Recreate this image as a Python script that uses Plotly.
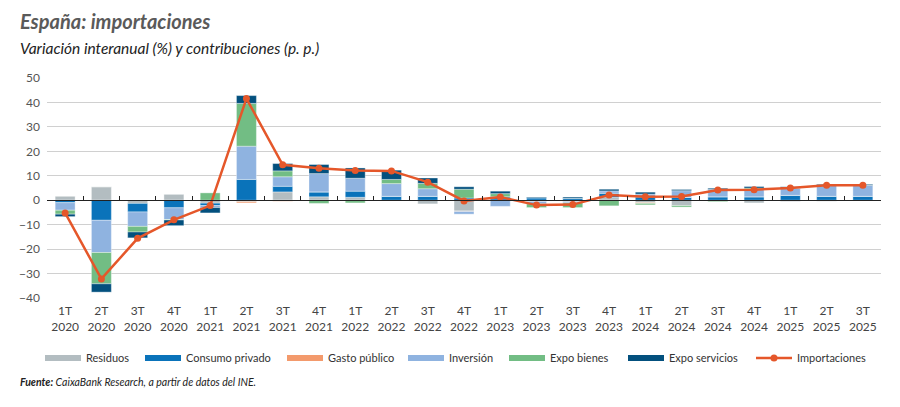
import plotly.graph_objects as go

quarters = ["1T", "2T", "3T", "4T", "1T", "2T", "3T", "4T", "1T", "2T", "3T", "4T",
            "1T", "2T", "3T", "4T", "1T", "2T", "3T", "4T", "1T", "2T", "3T"]
years = ["2020"] * 4 + ["2021"] * 4 + ["2022"] * 4 + ["2023"] * 4 + ["2024"] * 4 + ["2025"] * 3
categories = [f"{q}<br>{y}" for q, y in zip(quarters, years)]

residuos = [1.7, 5.5, -1.3, 2.5, -1.2, -0.6, 3.4, 1.4, 1.2, -0.3, -1.5, -4.4,
            0.0, -0.5, -0.6, 1.2, -1.0, -2.2, -0.3, -1.1, -0.5, -0.4, -0.3]
consumo_privado = [-1.0, -8.2, -3.5, -3.1, -1.0, 8.5, 2.3, 2.0, 2.5, 1.6, 1.6, 0.9,
                   1.4, 1.0, 0.8, 1.7, 1.3, 1.1, 1.4, 1.4, 2.0, 1.6, 1.6]
gasto_publico = [0, 0, 0, 0, 0, -0.5, -0.4, 0, -0.2, 0, 0, -0.2,
                 0, 0, 0, 0, -0.3, 0, 0, 0, 0, 0, 0]
inversion = [-3.1, -13.2, -5.9, -4.8, -0.8, 13.6, 3.9, 7.5, 5.3, 5.2, 3.1, -1.1,
             -2.5, -1.0, -0.5, 0.9, 1.2, 2.8, 3.0, 3.2, 3.0, 4.6, 4.5]
expo_bienes = [-1.6, -12.8, -2.3, -0.2, 3.0, 17.5, 2.4, -1.3, -0.9, 1.7, 2.2, 3.6,
               1.3, -1.5, -1.9, -2.3, -0.6, -0.6, -0.3, 0.4, 0.0, 0.1, 0.0]
expo_servicios = [-1.0, -3.4, -2.4, -2.3, -2.2, 3.2, 3.0, 3.7, 4.2, 3.8, 2.2, 1.0,
                  1.0, 0.3, 0.5, 0.7, 0.8, 0.5, 0.5, 0.6, 0.5, 0.3, 0.4]
importaciones = [-5.2, -32.2, -15.6, -8.0, -2.2, 41.6, 14.5, 13.1, 12.2, 12.0, 7.4, -0.3,
                 1.3, -2.0, -1.8, 2.1, 1.4, 1.5, 4.2, 4.3, 5.0, 6.1, 6.1]

series = [
    ("Residuos", residuos, "#b3bdc1"),
    ("Consumo privado", consumo_privado, "#0a73ba"),
    ("Gasto público", gasto_publico, "#f39a6c"),
    ("Inversión", inversion, "#8fb3e0"),
    ("Expo bienes", expo_bienes, "#72bd84"),
    ("Expo servicios", expo_servicios, "#03507e"),
]
line_color = "#e5572a"
FONT = "Lato"

# left edge (px) of each legend swatch, in legend order
legend_px = [44, 144, 286, 407, 508, 627, 755]

def px_x(p):
    return (p - 47) / 834

def px_y(p):
    return (298 - p) / 220

fig = go.Figure()
for name, vals, col in series:
    fig.add_trace(go.Bar(x=categories, y=vals, name=name, marker_color=col,
                         marker_line=dict(color="rgba(255,255,255,0.6)", width=0.6),
                         showlegend=False))
# legend entries drawn as wide flat swatches, each in its own legend box
for i, (name, vals, col) in enumerate(series):
    lg = "legend" if i == 0 else f"legend{i + 1}"
    fig.add_trace(go.Scatter(x=[None], y=[None], mode="lines", name=name,
                             line=dict(color=col, width=6), legend=lg))
fig.add_trace(go.Scatter(x=categories, y=importaciones, name="Importaciones",
                         mode="lines+markers", line=dict(color=line_color, width=2.5),
                         marker=dict(size=7, color=line_color), legend="legend7"))
# axis for tick marks on the zero line
fig.add_trace(go.Scatter(x=categories, y=[None] * len(categories), xaxis="x2",
                         showlegend=False, hoverinfo="skip"))

ymin, ymax = -40, 50
xr = [-0.5, len(categories) - 0.5]
legend_common = dict(orientation="h", xanchor="left", yanchor="middle",
                     y=px_y(358), itemwidth=36,
                     font=dict(size=11, color="#333"), bgcolor="rgba(0,0,0,0)")
legends = {}
for i, p in enumerate(legend_px):
    key = "legend" if i == 0 else f"legend{i + 1}"
    legends[key] = dict(legend_common, x=px_x(p - 4))

fig.update_layout(
    width=900, height=407,
    margin=dict(l=47, r=19, t=78, b=109, autoexpand=False),
    barmode="relative", bargap=0.45,
    plot_bgcolor="white", paper_bgcolor="white",
    font=dict(family=FONT, size=12, color="#444"),
    xaxis=dict(categoryorder="array", categoryarray=categories, range=xr,
               showgrid=False, showline=False, ticks="", ticklabelstandoff=4,
               tickfont=dict(size=12, color="#444"), tickangle=0, automargin=False),
    xaxis2=dict(overlaying="x", matches="x", anchor="free",
                position=(0 - ymin) / (ymax - ymin), side="bottom",
                showline=True, linecolor="#222", linewidth=1,
                ticks="inside", ticklen=4, tickcolor="#222", tickwidth=1,
                tickson="boundaries", showticklabels=False, showgrid=False,
                automargin=False),
    yaxis=dict(range=[ymin, ymax], dtick=10, showgrid=True, gridcolor="#d0d0d0",
               gridwidth=1, zeroline=False, ticks="", ticklabelstandoff=6,
               tickfont=dict(size=12, color="#555"), automargin=False),
    showlegend=True,
    **legends,
)

fig.add_annotation(text="<b><i>España: importaciones</i></b>", xref="paper", yref="paper",
                   x=px_x(18), y=px_y(21), xanchor="left", yanchor="middle",
                   showarrow=False, font=dict(family=FONT, size=20, color="#5a5a5a"))
fig.add_annotation(text="<i>Variación interanual (%) y contribuciones (p. p.)</i>",
                   xref="paper", yref="paper", x=px_x(18), y=px_y(48),
                   xanchor="left", yanchor="middle", showarrow=False,
                   font=dict(family=FONT, size=15.5, color="#222"))
fig.add_annotation(text="<b><i>Fuente:</i></b><i> CaixaBank Research, a partir de datos del INE.</i>",
                   xref="paper", yref="paper", x=px_x(18), y=px_y(382),
                   xanchor="left", yanchor="middle", showarrow=False,
                   font=dict(family=FONT, size=10.5, color="#222"))

fig.write_html("out.html", config={"displayModeBar": False},
               post_script="document.body.style.margin='0';")
